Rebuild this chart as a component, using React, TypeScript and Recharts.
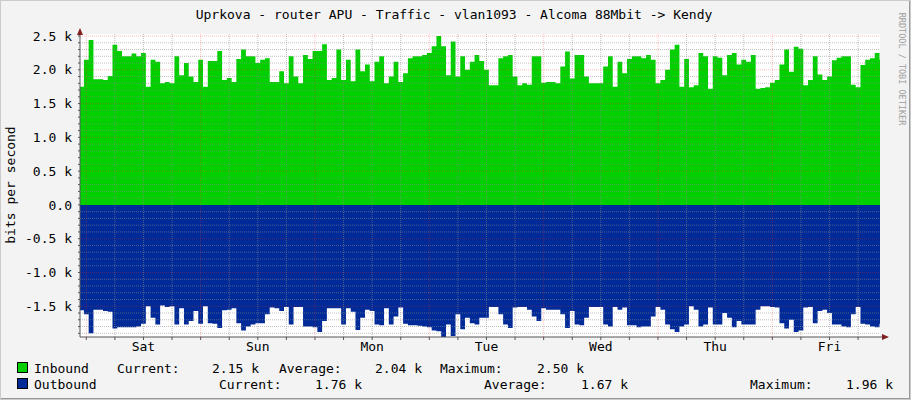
import React from 'react';
import { AreaChart, Area, XAxis, YAxis, ReferenceLine, CartesianGrid } from 'recharts';

// hourly samples, first one is 2h before Sat 00:00
const START_HOUR = -2;

const inbound = [
  1.75, 1.75, 2.15, 2.44, 1.86, 1.86, 1.85, 1.91, 2.37, 2.28,
  2.2, 2.2, 2.24, 2.2, 2.25, 1.75, 2.15, 2.12, 1.8, 1.82,
  1.8, 2.2, 1.92, 2.1, 1.9, 1.82, 2.15, 1.75, 2.13, 2.13,
  2.28, 1.85, 1.88, 1.82, 2.16, 2.3, 2.2, 2.2, 2.1, 2.15,
  2.17, 1.82, 1.82, 1.98, 1.8, 2.2, 1.9, 1.8, 2.22, 2.16,
  2.28, 2.28, 2.38, 1.85, 1.88, 2.3, 1.85, 2.15, 1.83, 2.3,
  1.98, 2.08, 1.83, 2.12, 2.2, 1.8, 1.9, 2.12, 1.82, 1.95,
  2.17, 2.2, 2.2, 2.22, 2.25, 2.35, 2.5, 2.35, 1.92, 2.42,
  1.9, 2.2, 2.0, 2.12, 2.22, 2.13, 2.0, 1.77, 1.77, 2.17,
  2.2, 2.22, 1.9, 1.77, 1.8, 1.78, 2.2, 2.2, 1.81, 1.82,
  1.82, 1.8, 2.05, 2.27, 1.87, 2.22, 2.22, 1.9, 1.8, 1.8,
  1.8, 2.05, 2.2, 1.75, 2.12, 1.95, 2.16, 2.2, 2.2, 2.17,
  2.22, 2.15, 1.8, 1.85, 2.0, 2.3, 2.37, 1.75, 2.16, 1.74,
  1.77, 2.25, 2.2, 1.72, 2.2, 2.18, 1.92, 2.22, 2.25, 2.08,
  2.15, 2.12, 2.22, 1.72, 1.73, 1.74, 1.81, 1.85, 2.08, 2.3,
  1.97, 2.34, 2.31, 1.77, 1.85, 2.2, 1.93, 1.85, 1.9, 2.14,
  2.18, 2.2, 2.2, 1.78, 1.74, 2.07, 2.15, 2.17, 2.25, 2.15,
];

const outbound = [
  1.56, 1.56, 1.62, 1.9, 1.55, 1.55, 1.57, 1.58, 1.83, 1.81,
  1.81, 1.81, 1.81, 1.8, 1.76, 1.5, 1.67, 1.77, 1.49, 1.51,
  1.5, 1.77, 1.53, 1.77, 1.72, 1.57, 1.76, 1.5, 1.75, 1.76,
  1.82, 1.56, 1.55, 1.53, 1.75, 1.86, 1.8, 1.77, 1.75, 1.75,
  1.62, 1.52, 1.53, 1.57, 1.51, 1.77, 1.51, 1.51, 1.8, 1.8,
  1.81, 1.88, 1.72, 1.53, 1.53, 1.53, 1.77, 1.53, 1.58, 1.85,
  1.67, 1.55, 1.57, 1.77, 1.78, 1.53, 1.77, 1.65, 1.52, 1.76,
  1.78, 1.78, 1.79, 1.8, 1.81, 1.86, 1.87, 1.96, 1.77, 1.94,
  1.62, 1.84, 1.67, 1.75, 1.77, 1.67, 1.67, 1.51, 1.51, 1.62,
  1.77, 1.82, 1.52, 1.51, 1.51, 1.55, 1.65, 1.72, 1.53, 1.55,
  1.55, 1.55, 1.62, 1.82, 1.57, 1.77, 1.78, 1.67, 1.51, 1.51,
  1.51, 1.77, 1.8, 1.51, 1.55, 1.52, 1.78, 1.78, 1.81, 1.8,
  1.8, 1.65, 1.51, 1.55, 1.77, 1.84, 1.88, 1.8, 1.77, 1.5,
  1.55, 1.8, 1.77, 1.52, 1.77, 1.77, 1.6, 1.67, 1.81, 1.72,
  1.77, 1.77, 1.77, 1.55, 1.5, 1.5, 1.51, 1.52, 1.75, 1.83,
  1.7, 1.88, 1.86, 1.52, 1.51, 1.75, 1.57, 1.55, 1.6, 1.77,
  1.77, 1.8, 1.81, 1.62, 1.51, 1.76, 1.77, 1.8, 1.81, 1.76,
];

const DAY_LABELS = ['Sat', 'Sun', 'Mon', 'Tue', 'Wed', 'Thu', 'Fri'];
const DAY_NOONS = [12, 36, 60, 84, 108, 132, 156];
const MIDNIGHTS = [0, 24, 48, 72, 96, 120, 144];
const SIX_HOURS = [
  0, 6, 12, 18, 24, 30, 36, 42, 48, 54, 60, 66, 72, 78, 84, 90, 96, 102, 108,
  114, 120, 126, 132, 138, 144, 150, 156, 162,
];
const Y_TICKS = [
  -1.9, -1.8, -1.7, -1.6, -1.5, -1.4, -1.3, -1.2, -1.1, -1.0, -0.9, -0.8, -0.7,
  -0.6, -0.5, -0.4, -0.3, -0.2, -0.1, 0, 0.1, 0.2, 0.3, 0.4, 0.5, 0.6, 0.7, 0.8,
  0.9, 1.0, 1.1, 1.2, 1.3, 1.4, 1.5, 1.6, 1.7, 1.8, 1.9, 2.0, 2.1, 2.2, 2.3, 2.4, 2.5,
];
const Y_MAJOR = [-1.5, -1.0, -0.5, 0, 0.5, 1.0, 1.5, 2.0, 2.5];

const legend = [
  { name: 'Inbound', color: '#00CF00', current: '2.15 k', average: '2.04 k', maximum: '2.50 k' },
  { name: 'Outbound', color: '#002A97', current: '1.76 k', average: '1.67 k', maximum: '1.96 k' },
];

const rows = inbound.map((v, i) => ({
  hour: START_HOUR + i,
  inbound: v,
  outbound: -outbound[i],
}));

const FONT = '"DejaVu Sans Mono", monospace';
const GRID = 'rgba(140,140,140,0.55)';
const MGRID = 'rgba(255,40,40,0.3)';
const AXIS = '#555555';
const ARROW = '#7F1F1F';
const X_DOMAIN = [-1.32, 166.6];
const Y_DOMAIN = [-1.955, 2.53];
const MARGIN = { top: 34, right: 31, bottom: 0, left: 0 };

const isMajor = (v: number) => Math.abs(v * 2 - Math.round(v * 2)) < 1e-6;

function yLabel(v: number) {
  if (!isMajor(v)) return '';
  if (Math.abs(v) < 1e-6) return '0.0';
  return `${v.toFixed(1)} k`;
}

function xLabel(h: number) {
  const i = DAY_NOONS.indexOf(h);
  return i >= 0 ? DAY_LABELS[i] : '';
}

// rrdtool draws the grid on top of the data, so it lives in a second, transparent chart
function GridLayer() {
  return (
    <AreaChart width={911} height={400} data={rows} margin={MARGIN} style={{ position: 'absolute', left: 0, top: 0 }}>
      <XAxis dataKey="hour" type="number" domain={X_DOMAIN} allowDataOverflow height={63} axisLine={false} tickLine={false} tick={false} />
      <YAxis type="number" domain={Y_DOMAIN} allowDataOverflow width={80} axisLine={false} tickLine={false} tick={false} />
      {Y_TICKS.filter((v) => !isMajor(v)).map((v) => (
        <ReferenceLine key={`hy${v}`} y={v} stroke={GRID} strokeDasharray="1 1" />
      ))}
      {SIX_HOURS.filter((h) => !MIDNIGHTS.includes(h)).map((h) => (
        <ReferenceLine key={`hx${h}`} x={h} stroke={GRID} strokeDasharray="1 1" />
      ))}
      {Y_MAJOR.filter((v) => v !== 0).map((v) => (
        <ReferenceLine key={`my${v}`} y={v} stroke={MGRID} strokeDasharray="1 1" />
      ))}
      {MIDNIGHTS.map((h) => (
        <ReferenceLine key={`mx${h}`} x={h} stroke={MGRID} strokeDasharray="1 1" />
      ))}
    </AreaChart>
  );
}

export default function App() {
  return (
    <div style={{ position: 'absolute', left: 0, top: 0, width: 911, height: 400, background: '#F3F3F3' }}>
      <AreaChart width={911} height={400} data={rows} margin={MARGIN}>
        <CartesianGrid fill="#FFFFFF" horizontal={false} vertical={false} />
        <XAxis
          dataKey="hour"
          type="number"
          domain={X_DOMAIN}
          allowDataOverflow
          ticks={SIX_HOURS}
          interval={0}
          tickFormatter={xLabel}
          height={63}
          tickSize={3}
          tickMargin={2}
          stroke={AXIS}
          tick={{ fill: '#000', fontSize: 13, fontFamily: FONT }}
        />
        <YAxis
          type="number"
          domain={Y_DOMAIN}
          allowDataOverflow
          ticks={Y_TICKS}
          interval={0}
          tickFormatter={yLabel}
          width={80}
          tickSize={2}
          tickMargin={6}
          stroke={AXIS}
          tick={{ fill: '#000', fontSize: 13, fontFamily: FONT }}
        />
        <Area
          dataKey="inbound"
          type="step"
          stroke="none"
          fill="#00CF00"
          fillOpacity={1}
          isAnimationActive={false}
        />
        <Area
          dataKey="outbound"
          type="step"
          stroke="none"
          fill="#002A97"
          fillOpacity={1}
          isAnimationActive={false}
        />
      </AreaChart>

      <GridLayer />

      <svg width={911} height={400} style={{ position: 'absolute', left: 0, top: 0, pointerEvents: 'none' }}>
        <rect x={0.5} y={0.5} width={910} height={399} fill="none" stroke="#CBCBCB" />
        <line x1={909.5} y1={1} x2={909.5} y2={399} stroke="#999999" />
        <line x1={1} y1={398.5} x2={910} y2={398.5} stroke="#999999" />
        <text x={454} y={19} textAnchor="middle" fontFamily={FONT} fontSize={13} fill="#000">
          Uprkova - router APU - Traffic - vlan1093 - Alcoma 88Mbit -&gt; Kendy
        </text>
        <text transform="translate(15,185) rotate(-90)" textAnchor="middle" fontFamily={FONT} fontSize={13} fill="#000">
          bits per second
        </text>
        <text transform="translate(899,69) rotate(90)" textAnchor="middle" fontFamily={FONT} fontSize={8.5} fill="#A0A0A0">
          RRDTOOL / TOBI OETIKER
        </text>
        <line x1={80} y1={30} x2={80} y2={34} stroke={AXIS} />
        <line x1={880} y1={337} x2={884} y2={337} stroke={AXIS} />
        <polygon points="77,35 83,35 80,28" fill={ARROW} />
        <polygon points="882,334 882,340 889,337" fill={ARROW} />

        {legend.map((s, i) => {
          const y = 373 + i * 16;
          const row2 = i === 1;
          return (
            <g key={s.name} fontFamily={FONT} fontSize={13} fill="#000" style={{ whiteSpace: 'pre' }}>
              <rect x={17.5} y={y - 10.5} width={10} height={10} fill={s.color} stroke="#000" />
              <text x={34} y={y}>{s.name}</text>
              <text x={row2 ? 219 : 117} y={y}>Current:</text>
              <text x={row2 ? 315 : 212} y={y}>{s.current}</text>
              <text x={row2 ? 484 : 279} y={y}>Average:</text>
              <text x={row2 ? 581 : 375} y={y}>{s.average}</text>
              <text x={row2 ? 750 : 440} y={y}>Maximum:</text>
              <text x={row2 ? 846 : 537} y={y}>{s.maximum}</text>
            </g>
          );
        })}
      </svg>
    </div>
  );
}
